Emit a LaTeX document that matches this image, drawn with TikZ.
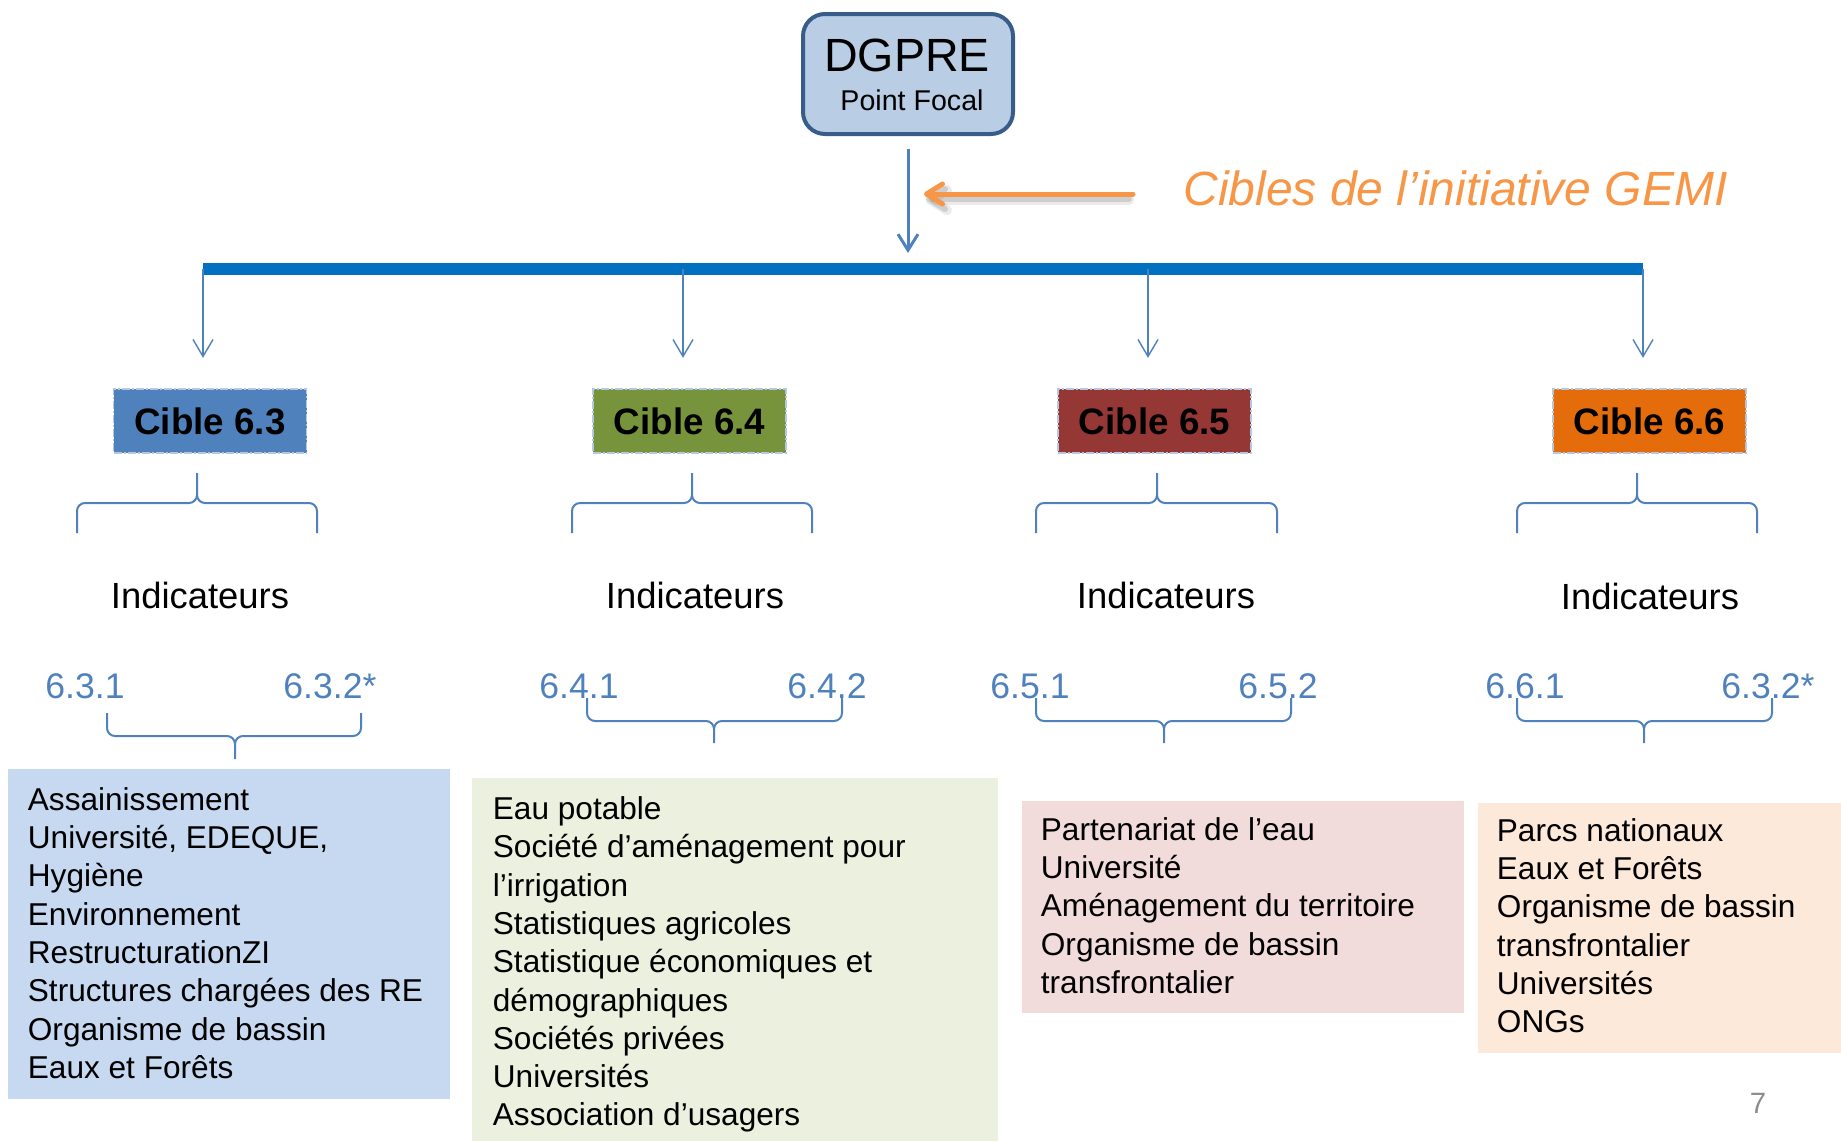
\documentclass[tikz,border=0pt]{standalone}
\usepackage{fontspec}
\setmainfont{Liberation Sans}
\usepackage{tikz}
\usetikzlibrary{arrows.meta,positioning,shapes}
\definecolor{acc}{HTML}{4F81BD}
\definecolor{barblue}{HTML}{0070C0}
\definecolor{dgfill}{HTML}{B9CDE5}
\definecolor{dgline}{HTML}{385D8A}
\definecolor{dashblue}{HTML}{B4C8E2}
\definecolor{cbleu}{HTML}{4F81BD}
\definecolor{cvert}{HTML}{77933C}
\definecolor{crouge}{HTML}{953735}
\definecolor{corange}{HTML}{E46C0A}
\definecolor{fbleu}{HTML}{C6D9F1}
\definecolor{fvert}{HTML}{EBF1DE}
\definecolor{frose}{HTML}{F2DCDB}
\definecolor{fpeche}{HTML}{FDE9D9}
\definecolor{gemio}{HTML}{F79646}
\definecolor{pgray}{HTML}{8C8C8C}

\begin{document}
\begin{tikzpicture}[x=0.5pt, y=-0.5pt, every node/.style={inner sep=0pt},
	cible/.style={minimum width=96.5pt, minimum height=32pt, draw=dashblue, line width=0.75pt, dash pattern=on 4pt off 1pt on 1pt off 1pt, font=\fontsize{18.4}{21}\selectfont\bfseries},
	brace/.style={draw=acc, line width=1pt, rounded corners=4pt},
	thin/.style={draw=acc, line width=0.7pt, -{Straight Barb[length=8.5pt, width=10pt]}},
	ind/.style={anchor=base, font=\fontsize{18.2}{21}\selectfont},
	num/.style={anchor=base west, text=acc, font=\fontsize{17.8}{21}\selectfont},
	fond/.style={anchor=north west, minimum width=#1},
	liste/.style={anchor=north west, align=left, font=\fontsize{15.8}{19.15}\selectfont}]
		\useasboundingbox (0,0) rectangle (1841,1141);

		\node[draw=dgline, fill=dgfill, line width=2pt, rounded corners=11pt, minimum width=105pt, minimum height=60pt] (dg) at (908,74) {};
		\node[anchor=base, font=\fontsize{23.3}{26}\selectfont] (dgt) at (907,71) {DGPRE};
		\node[anchor=base, font=\fontsize{14.3}{17}\selectfont] (pf) at (912,110) {Point Focal};

		\coordinate (a3) at (203,269);
		\coordinate (a4) at (683,269);
		\coordinate (a5) at (1148,269);
		\coordinate (a6) at (1643,269);
		\coordinate (barc) at (908,253);
		\draw[acc, line width=1.5pt, shorten <=6.5pt, -{Straight Barb[length=8pt, width=10pt]}] (dg.south) -- (barc);
		\draw[barblue, line width=6pt] (a3) -- (a6);

		\node[anchor=base west, text=gemio, font=\fontsize{24}{28}\selectfont\itshape] (gemi) at (1183,205) {Cibles de l’initiative GEMI};
		\coordinate (gtail) at (1133,194);
		\coordinate (gtip) at (924,194);
		\draw[black, opacity=0.08, line width=5pt, line cap=round, shorten <=3pt, -{Straight Barb[length=8pt, width=10pt, round]}] ([shift={(2,6)}]gtail) -- ([shift={(2,6)}]gtip);
		\draw[black, opacity=0.12, line width=3pt, line cap=round, shorten <=3pt, -{Straight Barb[length=8pt, width=10pt, round]}] ([shift={(2,5)}]gtail) -- ([shift={(2,5)}]gtip);
		\draw[gemio, line width=2.5pt, line cap=round, -{Straight Barb[length=8pt, width=10pt, round]}] (gtail) -- (gtip);

		\node[cible, fill=cbleu] (c3) at (210,421) {Cible 6.3};
		\node[cible, fill=cvert] (c4) at (689.5,421) {Cible 6.4};
		\node[cible, fill=crouge] (c5) at (1154.5,421) {Cible 6.5};
		\node[cible, fill=corange] (c6) at (1649.5,421) {Cible 6.6};
		\draw[thin, shorten >=15.2pt] (a3) -- (a3 |- c3.north);
		\draw[thin, shorten >=15.2pt] (a4) -- (a4 |- c4.north);
		\draw[thin, shorten >=15.2pt] (a5) -- (a5 |- c5.north);
		\draw[thin, shorten >=15.2pt] (a6) -- (a6 |- c6.north);

		\draw[brace] (77,533) |- (197,503) -- (197,473) (317,533) |- (197,503) -- (197,473);
		\draw[brace] (572,533) |- (692,503) -- (692,473) (812,533) |- (692,503) -- (692,473);
		\draw[brace] (1036,533) |- (1157,503) -- (1157,473) (1277,533) |- (1157,503) -- (1157,473);
		\draw[brace] (1517,533) |- (1637,503) -- (1637,473) (1757,533) |- (1637,503) -- (1637,473);

		\node[ind] (i3) at (200,608) {Indicateurs};
		\node[ind] (i4) at (695,608) {Indicateurs};
		\node[ind] (i5) at (1166,608) {Indicateurs};
		\node[ind] (i6) at (1650,609) {Indicateurs};

		\node[num] (n31) at (45,698) {6.3.1};
		\node[num] (n32) at (283,698) {6.3.2*};
		\node[num] (n41) at (539,698) {6.4.1};
		\node[num] (n42) at (787,698) {6.4.2};
		\node[num] (n51) at (990,698) {6.5.1};
		\node[num] (n52) at (1238,698) {6.5.2};
		\node[num] (n61) at (1485,698) {6.6.1};
		\node[num] (n62) at (1721,698) {6.3.2*};

		\draw[brace] (107,713) |- (235,736) -- (235,759) (361,713) |- (235,736) -- (235,759);
		\draw[brace] (587,698) |- (714,721) -- (714,743) (842,698) |- (714,721) -- (714,743);
		\draw[brace] (1036,698) |- (1164,721) -- (1164,743) (1291,698) |- (1164,721) -- (1164,743);
		\draw[brace] (1517,698) |- (1644,721) -- (1644,743) (1772,698) |- (1644,721) -- (1644,743);

		\node[fond=221pt, fill=fbleu, minimum height=165pt] (b3) at (8,769) {};
		\node[fond=263pt, fill=fvert, minimum height=181.5pt] (b4) at (472,778) {};
		\node[fond=221pt, fill=frose, minimum height=106pt] (b5) at (1022,801) {};
		\node[fond=181.5pt, fill=fpeche, minimum height=125pt] (b6) at (1478,803) {};

		\node[liste] (l3) at (27.5,783.1) {\strut Assainissement\\Université, EDEQUE,\\Hygiène\\Environnement\\RestructurationZI\\Structures chargées des RE\\Organisme de bassin\\Eaux et Forêts};
		\node[liste] (l4) at (492.5,792.3) {\strut Eau potable\\Société d’aménagement pour\\l’irrigation\\Statistiques agricoles\\Statistique économiques et\\démographiques\\Sociétés privées\\Universités\\Association d’usagers};
		\node[liste] (l5) at (1040.5,813.1) {\strut Partenariat de l’eau\\Université\\Aménagement du territoire\\Organisme de bassin\\transfrontalier};
		\node[liste] (l6) at (1496.5,814.1) {\strut Parcs nationaux\\Eaux et Forêts\\Organisme de bassin\\transfrontalier\\Universités\\ONGs};

		\node[anchor=base, text=pgray, font=\fontsize{14.7}{17}\selectfont] (pg) at (1758,1113) {7};
	\end{tikzpicture}
\end{document}
